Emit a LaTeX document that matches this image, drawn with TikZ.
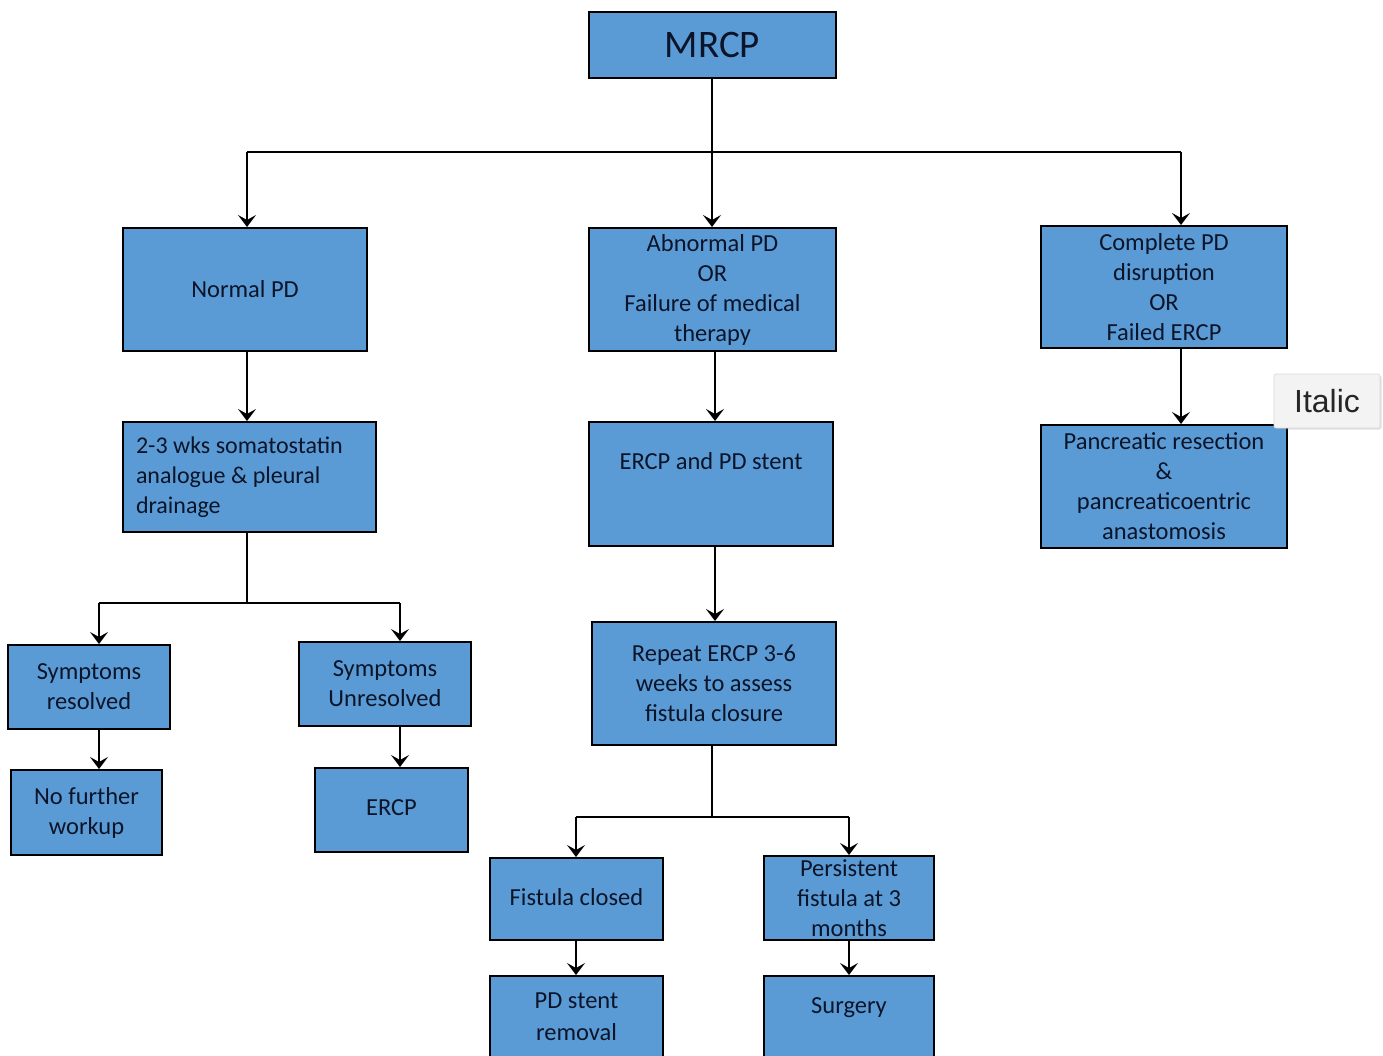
\documentclass[tikz,border=0pt]{standalone}
\usepackage{fontspec}
\setmainfont{Carlito}
\newfontfamily\tipfont{Liberation Sans}
\usetikzlibrary{arrows.meta,shadows}
\definecolor{boxfill}{HTML}{5B9BD5}
\definecolor{boxtext}{HTML}{0B1428}
\definecolor{tipfill}{HTML}{F3F3F3}
\newcommand{\shiftup}[2]{\raisebox{#1}[\height][\depth]{#2}}
\tikzset{
  box/.style={draw=black, line width=2pt, fill=boxfill, text=boxtext, align=center,
    inner sep=0pt, font=\fontsize{24.5}{30}\selectfont},
  conn/.style={line width=2pt, draw=black},
  arr/.style={conn, -{Stealth[length=12pt,width=18pt,inset=5pt]}},
}
\begin{document}
\begin{tikzpicture}[x=1pt,y=-1pt]
\useasboundingbox (0,0) rectangle (1383,1055);
\clip (0,0) rectangle (1383,1055);
% top
\node[box, minimum width=247, minimum height=66, font=\fontsize{39}{40}\selectfont] (mrcp) at (712.5,45) {MRCP};
% level 1
\node[box, minimum width=244, minimum height=123] (normal) at (245,289.5) {Normal PD};
\node[box, minimum width=247, minimum height=123] (abn) at (712.5,289.5) {Abnormal PD\\OR\\Failure of medical\\therapy};
\node[box, minimum width=246, minimum height=122] (complete) at (1164,287) {Complete PD\\disruption\\OR\\Failed ERCP};
% level 2
\node[box, minimum width=253, minimum height=110, align=flush left, text width=227, font=\fontsize{24}{30}\selectfont] (soma) at (249.5,477) {2-3 wks somatostatin\\analogue \& pleural\\drainage};
\node[box, minimum width=244, minimum height=124] (stent) at (711,484) {\shiftup{23pt}{ERCP and PD stent}};
\node[box, minimum width=246, minimum height=123] (panc) at (1164,486.5) {Pancreatic resection\\\&\\pancreaticoentric\\anastomosis};
% left branch
\node[box, minimum width=162, minimum height=84] (sres) at (89,687) {Symptoms\\resolved};
\node[box, minimum width=172, minimum height=84] (sunres) at (385,684) {Symptoms\\Unresolved};
\node[box, minimum width=151, minimum height=85] (nofur) at (86.5,812.5) {No further\\workup};
\node[box, minimum width=153, minimum height=84] (ercp) at (391.5,810) {\shiftup{2pt}{ERCP}};
% middle branch
\node[box, minimum width=244, minimum height=123] (repeat) at (714,683.5) {Repeat ERCP 3-6\\weeks to assess\\fistula closure};
\node[box, minimum width=173, minimum height=82] (fclosed) at (576.5,899) {\shiftup{2pt}{Fistula closed}};
\node[box, minimum width=170, minimum height=84] (persist) at (849,898) {Persistent\\fistula at 3\\months};
\node[box, minimum width=173, minimum height=84] (removal) at (576.5,1018) {\shiftup{2pt}{PD stent}\\removal};
\node[box, minimum width=170, minimum height=84] (surgery) at (849,1018) {\shiftup{10pt}{Surgery}};
% tooltip
\node[draw=gray!30, line width=0.6pt, fill=tipfill, rounded corners=2pt, minimum width=106, minimum height=54,
  drop shadow={shadow xshift=1.5pt, shadow yshift=-1.5pt, opacity=0.25}, font=\tipfont\fontsize{32}{34}\selectfont,
  text=black!85] (tip) at (1327,401) {Italic};
% connectors
\coordinate (j1) at (712,152);
\coordinate (jl) at (247,152);
\coordinate (jr) at (1181,152);
\draw[arr] (mrcp.south -| j1) -- (abn.north -| j1);
\draw[conn] (jl) -- (jr);
\draw[arr] (jl) -- (normal.north -| jl);
\draw[arr] (jr) -- (complete.north -| jr);
\draw[arr] (normal.south -| jl) -- (soma.north -| jl);
\draw[arr] (complete.south -| jr) -- (panc.north -| jr);
\coordinate (mx) at (715,0);
\draw[arr] (abn.south -| mx) -- (stent.north -| mx);
\draw[arr] (stent.south -| mx) -- (repeat.north -| mx);
% soma split
\coordinate (sj) at (247,603);
\coordinate (sl) at (99,603);
\coordinate (sr) at (400,603);
\draw[conn] (soma.south -| sj) -- (sj);
\draw[conn] (sl) -- (sr);
\draw[arr] (sl) -- (sres.north -| sl);
\draw[arr] (sr) -- (sunres.north -| sr);
\draw[arr] (sres.south -| sl) -- (nofur.north -| sl);
\draw[arr] (sunres.south -| sr) -- (ercp.north -| sr);
% repeat split
\coordinate (rj) at (712,817);
\coordinate (rl) at (576,817);
\coordinate (rr) at (849,817);
\draw[conn] (repeat.south -| rj) -- (rj);
\draw[conn] (rl) -- (rr);
\draw[arr] (rl) -- (fclosed.north -| rl);
\draw[arr] (rr) -- (persist.north -| rr);
\draw[arr] (fclosed.south -| rl) -- (removal.north -| rl);
\draw[arr] (persist.south -| rr) -- (surgery.north -| rr);
\end{tikzpicture}
\end{document}
